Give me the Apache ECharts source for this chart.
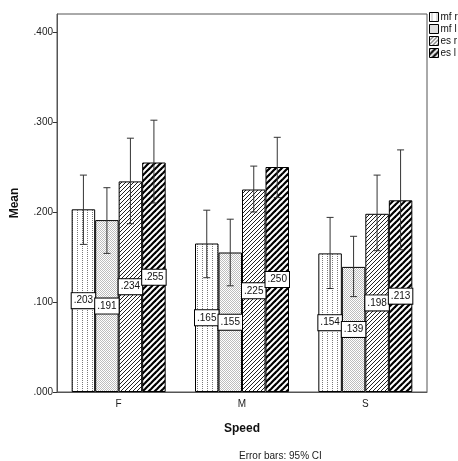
<!DOCTYPE html>
<html>
<head>
<meta charset="utf-8">
<script src="https://cdn.jsdelivr.net/npm/echarts@6/dist/echarts.min.js"></script>
<style>html,body{margin:0;padding:0;background:#fff}#c{width:458px;height:461px}</style>
</head>
<body>
<div id="c"></div>
<script>
// ---- data ----
const categories = ['F', 'M', 'S'];
const seriesNames = ['mf r', 'mf l', 'es r', 'es l'];
const mfR = [0.203, 0.165, 0.154];
const mfL = [0.191, 0.155, 0.139];
const esR = [0.234, 0.225, 0.198];
const esL = [0.255, 0.250, 0.213];
// 95% CI lower / upper
const mfRLow = [0.164, 0.127, 0.115], mfRHigh = [0.241, 0.202, 0.194];
const mfLLow = [0.154, 0.118, 0.106], mfLHigh = [0.227, 0.192, 0.173];
const esRLow = [0.187, 0.200, 0.157], esRHigh = [0.282, 0.251, 0.241];
const esLLow = [0.210, 0.216, 0.158], esLHigh = [0.302, 0.283, 0.269];
const yTicks = [0, 0.1, 0.2, 0.3, 0.4];

const values = [mfR, mfL, esR, esL];
const lows = [mfRLow, mfLLow, esRLow, esLLow];
const highs = [mfRHigh, mfLHigh, esRHigh, esLHigh];

// ---- patterns ----
function mk(w, h, draw) {
  const c = document.createElement('canvas');
  c.width = w; c.height = h;
  const ctx = c.getContext('2d');
  ctx.fillStyle = '#fff'; ctx.fillRect(0, 0, w, h);
  draw(ctx);
  return { image: c, repeat: 'repeat' };
}
const pat1 = mk(5, 2, ctx => { ctx.fillStyle = '#7a7a7a'; ctx.fillRect(2, 0, 1, 1); });
const pat2 = mk(2, 2, ctx => { ctx.fillStyle = '#bdbdbd'; ctx.fillRect(0, 0, 1, 1); ctx.fillRect(1, 1, 1, 1); });
const pat3 = mk(4, 4, ctx => {
  ctx.strokeStyle = '#222'; ctx.lineWidth = 1;
  for (const o of [-4, 0, 4]) { ctx.beginPath(); ctx.moveTo(o - 1, 5); ctx.lineTo(o + 5, -1); ctx.stroke(); }
});
const pat4 = mk(6, 6, ctx => {
  ctx.strokeStyle = '#000'; ctx.lineWidth = 2.2;
  for (const o of [-6, 0, 6]) { ctx.beginPath(); ctx.moveTo(o - 1, 7); ctx.lineTo(o + 7, -1); ctx.stroke(); }
});
const patterns = [pat1, pat2, pat3, pat4];

const BW = 23.5;
const fmt = v => v.toFixed(3).replace(/^0/, '');

const series = [];
values.forEach((vals, i) => {
  series.push({
    name: seriesNames[i],
    type: 'bar',
    data: vals,
    barWidth: BW,
    barGap: '0%',
    itemStyle: { color: patterns[i], borderColor: '#000', borderWidth: 1 },
    label: {
      show: true, position: 'inside', formatter: p => fmt(p.value),
      fontFamily: 'Liberation Sans, Arial, sans-serif', fontSize: 10, color: '#111',
      backgroundColor: '#fff', borderColor: '#000', borderWidth: 1, padding: [3, 2, 2, 2]
    },
    z: 2
  });
});
values.forEach((vals, i) => {
  series.push({
    type: 'custom',
    silent: true,
    z: 3,
    data: categories.map((c, k) => [k, lows[i][k], highs[i][k]]),
    renderItem: (params, api) => {
      const lo = api.coord([api.value(0), api.value(1)]);
      const hi = api.coord([api.value(0), api.value(2)]);
      const x = lo[0] + (i - 1.5) * BW;
      const cap = 3.5;
      const st = { stroke: '#333', lineWidth: 1 };
      return {
        type: 'group',
        children: [
          { type: 'line', shape: { x1: x, y1: lo[1], x2: x, y2: hi[1] }, style: st },
          { type: 'line', shape: { x1: x - cap, y1: hi[1], x2: x + cap, y2: hi[1] }, style: st },
          { type: 'line', shape: { x1: x - cap, y1: lo[1], x2: x + cap, y2: lo[1] }, style: st }
        ]
      };
    }
  });
});

const chart = echarts.init(document.getElementById('c'), null, { renderer: 'canvas' });
chart.setOption({
  animation: false,
  backgroundColor: '#fff',
  textStyle: { fontFamily: 'Liberation Sans, Arial, sans-serif' },
  title: {
    text: 'Error bars: 95% CI', left: 234, top: 446,
    textStyle: { fontSize: 10, fontWeight: 'normal', color: '#222', fontFamily: 'Liberation Sans, Arial, sans-serif' }
  },
  legend: {
    orient: 'vertical', left: 429, top: 12, itemWidth: 9, itemHeight: 9, itemGap: 2,
    padding: 0,
    icon: 'rect',
    data: seriesNames,
    textStyle: { fontSize: 10, color: '#111', padding: [0, 0, 0, -3], width: 40, overflow: 'none' },
    itemStyle: { borderColor: '#000', borderWidth: 1 }
  },
  grid: { left: 57, right: 31, top: 14, bottom: 69, show: true, borderColor: '#555', borderWidth: 1 },
  xAxis: {
    type: 'category', data: categories,
    name: 'Speed', nameLocation: 'middle', nameGap: 31,
    nameTextStyle: { fontSize: 12, fontWeight: 'bold', color: '#111' },
    axisLine: { lineStyle: { color: '#555' } },
    axisTick: { alignWithLabel: true, length: 5, lineStyle: { color: '#333' } },
    axisLabel: { fontSize: 10, color: '#222', margin: 7 }
  },
  yAxis: {
    type: 'value', min: 0, max: 0.42, interval: 0.1,
    name: 'Mean', nameLocation: 'middle', nameGap: 36,
    nameTextStyle: { fontSize: 12, fontWeight: 'bold', color: '#111' },
    axisLine: { show: true, lineStyle: { color: '#555' } },
    axisTick: { show: true, length: 4, customValues: yTicks, lineStyle: { color: '#333' } },
    axisLabel: { fontSize: 10, color: '#222', margin: 4, customValues: yTicks, formatter: v => fmt(v) },
    splitLine: { show: false }
  },
  series: series
});
</script>
</body>
</html>
